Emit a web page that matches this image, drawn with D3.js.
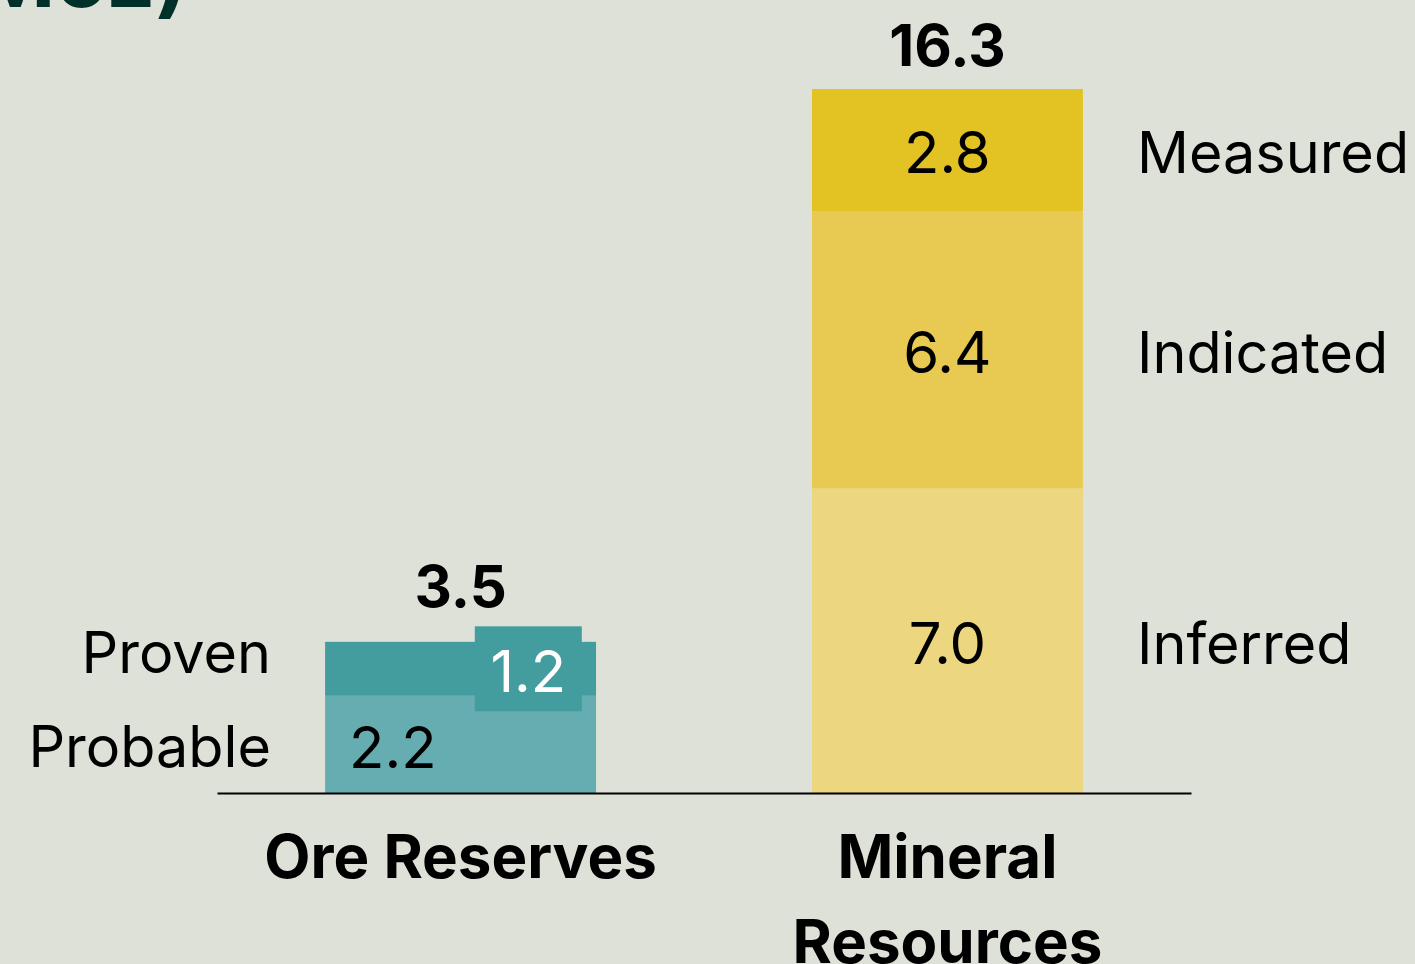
<!DOCTYPE html>
<html>
<head>
<meta charset="utf-8">
<script src="https://cdn.jsdelivr.net/npm/d3@7"></script>
<style>
  body { margin: 0; background: #dee1d7; }
  text { font-family: Inter, "Noto Sans", sans-serif; }
</style>
</head>
<body>
<div id="chart"></div>
<script>
var svgWidth = 1415;
var svgHeight = 964;

// Data
var categories = ["Ore Reserves", "Mineral Resources"];
var categoryLines = [["Ore Reserves"], ["Mineral", "Resources"]];
var oreSegments = ["Probable", "Proven"];
var oreValues = [2.25, 1.25];
var oreLabels = ["2.2", "1.2"];
var oreTotal = "3.5";
var mineralSegments = ["Inferred", "Indicated", "Measured"];
var mineralValues = [7.05, 6.42, 2.83];
var mineralLabels = ["7.0", "6.4", "2.8"];
var mineralTotal = "16.3";

var oreColors = ["#66adb1", "#439d9f"];
var mineralColors = ["#ecd680", "#e8ca52", "#e2c323"];

var svg = d3.select("#chart")
  .append("svg")
  .attr("width", svgWidth)
  .attr("height", svgHeight);

// partial title, cut at the top of the frame
svg.append("text")
  .attr("x", 188)
  .attr("y", 7)
  .attr("text-anchor", "end")
  .attr("font-size", "86px")
  .attr("font-weight", 700)
  .attr("fill", "#00302a")
  .text("Resources (Moz)");

var xScale = d3.scaleBand()
  .domain(categories)
  .range([217, 1191])
  .paddingInner(0.4435)
  .paddingOuter(0.222);

var yScale = d3.scaleLinear()
  .domain([0, 16.3])
  .range([793, 89]);

function stack(values) {
  var acc = 0;
  return values.map(function(v) {
    var s = { y0: acc, y1: acc + v };
    acc += v;
    return s;
  });
}

var bw = xScale.bandwidth();

// Ore Reserves
var oreX = xScale("Ore Reserves");
var oreStack = stack(oreValues);
var oreG = svg.append("g");

oreG.selectAll("rect")
  .data(oreStack)
  .enter()
  .append("rect")
  .attr("x", oreX)
  .attr("y", d => yScale(d.y1))
  .attr("width", bw)
  .attr("height", d => yScale(d.y0) - yScale(d.y1))
  .attr("fill", (d, i) => oreColors[i]);

// Probable label
oreG.append("text")
  .attr("x", oreX + bw * 0.25)
  .attr("y", (yScale(oreStack[0].y0) + yScale(oreStack[0].y1)) / 2 + 3)
  .attr("dominant-baseline", "central")
  .attr("text-anchor", "middle")
  .attr("font-size", "58px")
  .attr("fill", "#000")
  .text(oreLabels[0]);

// Proven label with its box
var provenMid = (yScale(oreStack[1].y0) + yScale(oreStack[1].y1)) / 2;
var boxW = 107, boxH = 85;
var boxTop = provenMid - boxH / 2;
oreG.append("rect")
  .attr("x", oreX + bw * 0.75 - boxW / 2)
  .attr("y", boxTop)
  .attr("width", boxW)
  .attr("height", boxH)
  .attr("fill", oreColors[1]);

oreG.append("text")
  .attr("x", oreX + bw * 0.75)
  .attr("y", provenMid + 2)
  .attr("dominant-baseline", "central")
  .attr("text-anchor", "middle")
  .attr("font-size", "58px")
  .attr("fill", "#fff")
  .text(oreLabels[1]);

// series names on the left
oreG.selectAll(".segname")
  .data(oreSegments)
  .enter()
  .append("text")
  .attr("x", 271)
  .attr("y", (d, i) => (yScale(oreStack[i].y0) + yScale(oreStack[i].y1)) / 2 + (i === 1 ? -17 : 2))
  .attr("dominant-baseline", "central")
  .attr("text-anchor", "end")
  .attr("font-size", "57.5px")
  .attr("fill", "#000")
  .text(d => d);

oreG.append("text")
  .attr("x", oreX + bw / 2)
  .attr("y", Math.min(boxTop, yScale(oreStack[1].y1)) - 19)
  .attr("text-anchor", "middle")
  .attr("font-size", "58px")
  .attr("font-weight", 700)
  .attr("fill", "#000")
  .text(oreTotal);

// Mineral Resources
var minX = xScale("Mineral Resources");
var minStack = stack(mineralValues);
var minG = svg.append("g");

minG.selectAll("rect")
  .data(minStack)
  .enter()
  .append("rect")
  .attr("x", minX)
  .attr("y", d => yScale(d.y1))
  .attr("width", bw)
  .attr("height", d => yScale(d.y0) - yScale(d.y1))
  .attr("fill", (d, i) => mineralColors[i]);

minG.selectAll(".val")
  .data(minStack)
  .enter()
  .append("text")
  .attr("x", minX + bw / 2)
  .attr("y", d => (yScale(d.y0) + yScale(d.y1)) / 2 + 2)
  .attr("dominant-baseline", "central")
  .attr("text-anchor", "middle")
  .attr("font-size", "58px")
  .attr("fill", "#000")
  .text((d, i) => mineralLabels[i]);

minG.selectAll(".segname")
  .data(minStack)
  .enter()
  .append("text")
  .attr("x", 1137)
  .attr("y", d => (yScale(d.y0) + yScale(d.y1)) / 2 + 2)
  .attr("dominant-baseline", "central")
  .attr("font-size", "57.5px")
  .attr("fill", "#000")
  .text((d, i) => mineralSegments[i]);

minG.append("text")
  .attr("x", minX + bw / 2)
  .attr("y", yScale(minStack[2].y1) - 23)
  .attr("text-anchor", "middle")
  .attr("font-size", "58px")
  .attr("font-weight", 700)
  .attr("fill", "#000")
  .text(mineralTotal);

// baseline axis
var bottomAxis = d3.axisBottom(xScale).tickSize(0).tickFormat("");
svg.append("g")
  .attr("transform", `translate(0, ${yScale(0)})`)
  .call(bottomAxis)
  .call(g => g.select(".domain").attr("stroke", "#000").attr("stroke-width", 2));

// category labels
var catG = svg.append("g");
categories.forEach(function(c, i) {
  var t = catG.append("text")
    .attr("x", xScale(c) + bw / 2)
    .attr("y", 878)
    .attr("text-anchor", "middle")
    .attr("font-size", "60px")
    .attr("font-weight", 700)
    .attr("fill", "#000");
  categoryLines[i].forEach(function(line, j) {
    t.append("tspan")
      .attr("x", xScale(c) + bw / 2)
      .attr("dy", j === 0 ? 0 : 85)
      .text(line);
  });
});
</script>
</body>
</html>
